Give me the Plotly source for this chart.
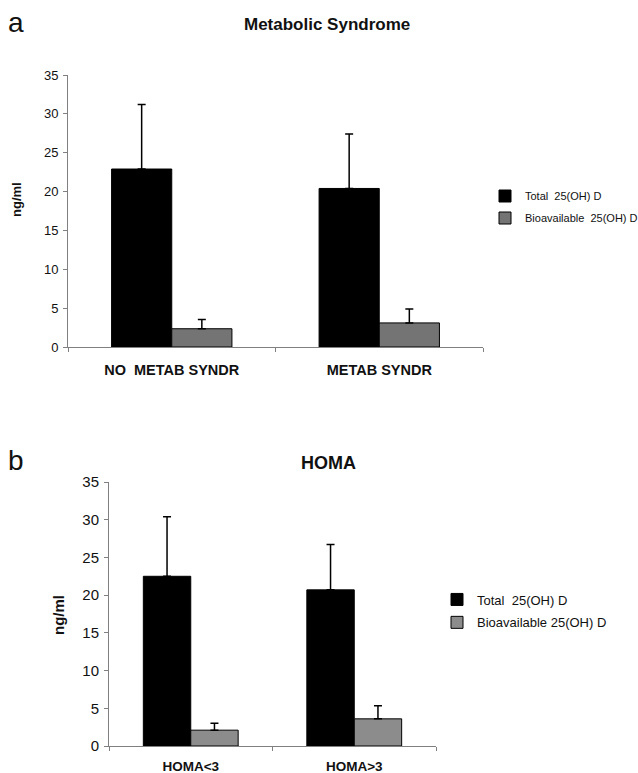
import plotly.graph_objects as go

# Panel a: Metabolic Syndrome
cats_a = ["NO\u00a0 METAB SYNDR", "METAB SYNDR"]
total_a = [22.9, 20.4]
total_a_err = [8.3, 7.0]
bio_a = [2.35, 3.1]
bio_a_err = [1.2, 1.8]

# Panel b: HOMA
cats_b = ["HOMA<3", "HOMA>3"]
total_b = [22.5, 20.7]
total_b_err = [7.9, 6.0]
bio_b = [2.1, 3.6]
bio_b_err = [0.9, 1.75]

yticks = [0, 5, 10, 15, 20, 25, 30, 35]

W, H = 638, 773
def px(x): return x / W
def py(y): return 1 - y / H

fig = go.Figure()

def err(a):
    return dict(type="data", array=a, arrayminus=[0] * len(a), symmetric=False,
                thickness=1.5, width=4, color="black")

fig.add_trace(go.Bar(x=cats_a, y=total_a, error_y=err(total_a_err), name="Total\u00a0 25(OH) D",
                     marker=dict(color="#000000", line=dict(color="#000000", width=1)),
                     xaxis="x", yaxis="y", legend="legend", legendgroup="a1"))
fig.add_trace(go.Bar(x=cats_a, y=bio_a, error_y=err(bio_a_err), name="Bioavailable\u00a0 25(OH) D",
                     marker=dict(color="#747474", line=dict(color="#000000", width=1)),
                     xaxis="x", yaxis="y", legend="legend", legendgroup="a2"))
fig.add_trace(go.Bar(x=cats_b, y=total_b, error_y=err(total_b_err), name="Total\u00a0 25(OH) D",
                     marker=dict(color="#000000", line=dict(color="#000000", width=1)),
                     xaxis="x2", yaxis="y2", legend="legend2", legendgroup="b1"))
fig.add_trace(go.Bar(x=cats_b, y=bio_b, error_y=err(bio_b_err), name="Bioavailable 25(OH) D",
                     marker=dict(color="#8c8c8c", line=dict(color="#000000", width=1)),
                     xaxis="x2", yaxis="y2", legend="legend2", legendgroup="b2"))

axis_common = dict(showline=True, linecolor="#808080", linewidth=1, ticks="outside",
                   tickcolor="#808080", ticklen=4, showgrid=False, zeroline=False,
                   automargin=False)

fig.update_layout(
    width=W, height=H,
    margin=dict(l=0, r=0, t=0, b=0, autoexpand=False),
    paper_bgcolor="white", plot_bgcolor="white",
    barmode="group", bargap=0.42, bargroupgap=0,
    font=dict(family="Liberation Sans, Arial, sans-serif", color="#111111"),
    xaxis=dict(domain=[px(68), px(483)], anchor="y", tickson="boundaries",
               tickfont=dict(size=14.5, family="Liberation Sans, Arial", weight="bold"),
               ticklabelstandoff=10, **axis_common),
    yaxis=dict(domain=[py(347), py(75)], anchor="x", range=[0, 35], tickvals=yticks,
               tickfont=dict(size=13), ticklabelstandoff=2, **axis_common),
    xaxis2=dict(domain=[px(109), px(436)], anchor="y2", tickson="boundaries",
                tickfont=dict(size=13.5, family="Liberation Sans, Arial", weight="bold"),
                ticklabelstandoff=8, **axis_common),
    yaxis2=dict(domain=[py(746), py(482)], anchor="x2", range=[0, 35], tickvals=yticks,
                tickfont=dict(size=15), ticklabelstandoff=2, **axis_common),
    legend=dict(x=px(485), y=py(181.5), xanchor="left", yanchor="top",
                font=dict(size=11), bgcolor="rgba(0,0,0,0)", tracegroupgap=3),
    legend2=dict(x=px(437), y=py(584.5), xanchor="left", yanchor="top",
                 font=dict(size=13), bgcolor="rgba(0,0,0,0)", tracegroupgap=3),
    showlegend=True,
    annotations=[
        dict(text="a", x=px(6), y=py(22), xref="paper", yref="paper", xanchor="left",
             yanchor="middle", showarrow=False, font=dict(size=28)),
        dict(text="<b>Metabolic Syndrome</b>", x=px(327), y=py(25), xref="paper", yref="paper",
             xanchor="center", yanchor="middle", showarrow=False, font=dict(size=17)),
        dict(text="<b>ng/ml</b>", x=px(16), y=py(200), xref="paper", yref="paper",
             textangle=-90, xanchor="center", yanchor="middle", showarrow=False,
             font=dict(size=13)),
        dict(text="b", x=px(6), y=py(460), xref="paper", yref="paper", xanchor="left",
             yanchor="middle", showarrow=False, font=dict(size=28)),
        dict(text="<b>HOMA</b>", x=px(328), y=py(463), xref="paper", yref="paper",
             xanchor="center", yanchor="middle", showarrow=False, font=dict(size=18)),
        dict(text="<b>ng/ml</b>", x=px(58), y=py(615), xref="paper", yref="paper",
             textangle=-90, xanchor="center", yanchor="middle", showarrow=False,
             font=dict(size=15)),
    ],
)

fig.write_html("out.html")
